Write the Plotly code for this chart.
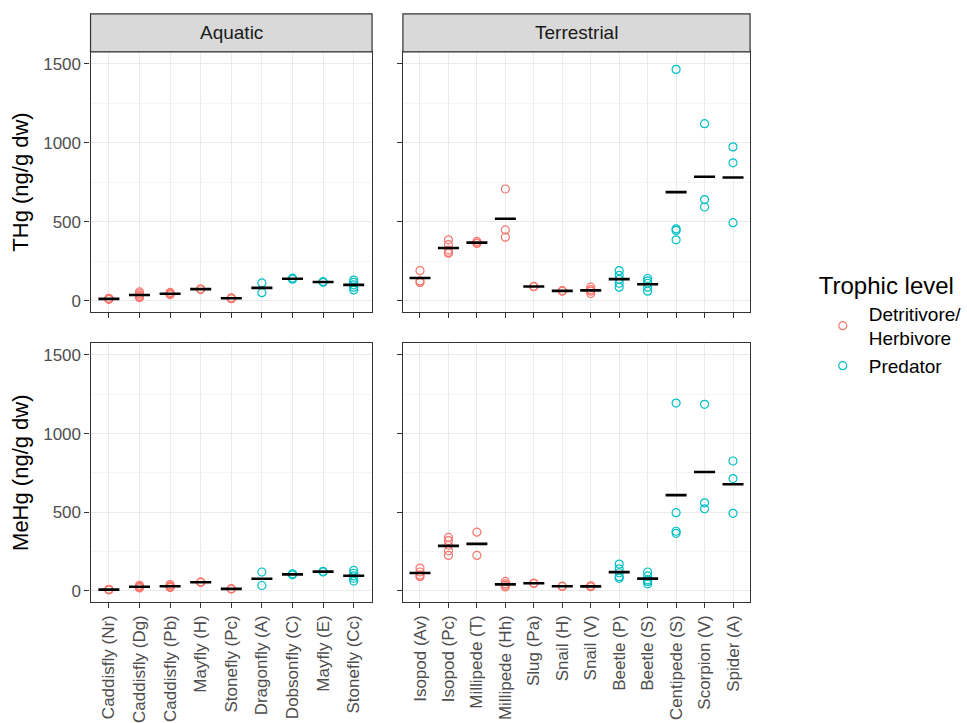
import numpy as np
import plotly.graph_objects as go

# ---------------- data ----------------
aquatic_cats = ["Caddisfly (Nr)", "Caddisfly (Dg)", "Caddisfly (Pb)", "Mayfly (H)", "Stonefly (Pc)",
                "Dragonfly (A)", "Dobsonfly (C)", "Mayfly (E)", "Stonefly (Cc)"]
aquatic_levels = ["Detritivore/Herbivore"] * 5 + ["Predator"] * 4

terrestrial_cats = ["Isopod (Av)", "Isopod (Pc)", "Millipede (T)", "Millipede (Hh)", "Slug (Pa)",
                    "Snail (H)", "Snail (V)", "Beetle (P)", "Beetle (S)", "Centipede (S)",
                    "Scorpion (V)", "Spider (A)"]
terrestrial_levels = ["Detritivore/Herbivore"] * 7 + ["Predator"] * 5

thg_aquatic = [[15, 10, 8, 12], [55, 45, 35, 25, 18], [52, 45, 40, 38], [75, 70], [18, 14, 12],
               [112, 50], [142, 136], [120, 116], [130, 115, 100, 85, 68]]
thg_terrestrial = [[190, 125, 115], [385, 355, 320, 305, 300], [375, 365, 362], [707, 448, 402],
                   [90, 88], [63, 60], [85, 70, 60, 45], [190, 160, 135, 110, 85],
                   [140, 125, 110, 85, 60], [1465, 455, 445, 385], [1121, 640, 593], [974, 873, 494]]
mehg_aquatic = [[10, 6, 8], [35, 28, 22, 18], [40, 30, 25, 22], [57, 53], [14, 11],
                [120, 34], [108, 102], [124, 120], [130, 112, 95, 80, 62]]
mehg_terrestrial = [[145, 120, 100, 90], [340, 320, 290, 255, 225], [373, 225], [60, 45, 35, 25],
                    [50, 46], [30, 28], [32, 28, 26], [170, 140, 115, 90, 80],
                    [120, 95, 70, 60, 45], [1194, 497, 379, 366], [1186, 560, 522], [826, 714, 493]]

level_names = ["Detritivore/Herbivore", "Predator"]
legend_labels = {"Detritivore/Herbivore": "Detritivore/<br>Herbivore", "Predator": "Predator"}
colors = {"Detritivore/Herbivore": "#F8766D", "Predator": "#00BFC4"}
y_ticks = [0, 500, 1000, 1500]

# ---------------- figure ----------------
W, H = 967, 723
fig = go.Figure()

def px_x(p):
    return p / W

def px_y(p):
    return 1 - p / H

col_dom = [(px_x(91), px_x(374)), (px_x(405), px_x(754))]
row_dom = [(px_y(313), px_y(52)), (px_y(604), px_y(344))]

panels = [
    ("x", "y", 0, 0, aquatic_cats, aquatic_levels, thg_aquatic),
    ("x2", "y2", 0, 1, terrestrial_cats, terrestrial_levels, thg_terrestrial),
    ("x3", "y3", 1, 0, aquatic_cats, aquatic_levels, mehg_aquatic),
    ("x4", "y4", 1, 1, terrestrial_cats, terrestrial_levels, mehg_terrestrial),
]

shown = set()
for xa, ya, r, c, cats, levels, vals in panels:
    for lev in level_names:
        xs, ys = [], []
        for cat, l, v in zip(cats, levels, vals):
            if l == lev:
                xs += [cat] * len(v)
                ys += list(v)
        if not xs:
            continue
        fig.add_trace(go.Scatter(
            x=xs, y=ys, xaxis=xa, yaxis=ya, mode="markers",
            name=legend_labels[lev], legendgroup=lev, showlegend=lev not in shown,
            marker=dict(symbol="circle-open", size=8, color=colors[lev], line=dict(width=1.2)),
            hoverinfo="x+y",
        ))
        shown.add(lev)
    means = [float(np.mean(v)) for v in vals]
    fig.add_trace(go.Scatter(
        x=cats, y=means, xaxis=xa, yaxis=ya, mode="markers", showlegend=False,
        marker=dict(symbol="line-ew", size=15, color="black", line=dict(width=2.6, color="black")),
        hoverinfo="x+y",
    ))

layout = dict(
    width=W, height=H, margin=dict(l=0, r=0, t=0, b=0),
    paper_bgcolor="white", plot_bgcolor="white",
    font=dict(family="Liberation Sans, Arial", color="black"),
    showlegend=True,
    legend=dict(
        title=dict(text="Trophic level", font=dict(size=24, color="black")),
        font=dict(size=19, color="black"),
        x=px_x(821), y=px_y(264), xanchor="left", yanchor="top",
        bgcolor="rgba(0,0,0,0)", itemwidth=42, tracegroupgap=0,
    ),
)

axis_common = dict(
    showline=True, linecolor="#333333", linewidth=1.2, mirror=True,
    ticks="outside", ticklen=5, tickwidth=1.2, tickcolor="#333333",
    gridcolor="#EBEBEB", gridwidth=1.3, zeroline=False,
    tickfont=dict(size=17, color="#4D4D4D"),
)

for xa, ya, r, c, cats, levels, vals in panels:
    xkey = "xaxis" if xa == "x" else "xaxis" + xa[1:]
    ykey = "yaxis" if ya == "y" else "yaxis" + ya[1:]
    n = len(cats)
    layout[xkey] = dict(
        axis_common, domain=list(col_dom[c]), anchor=ya, type="category",
        categoryorder="array", categoryarray=cats, range=[-0.6, n - 0.4],
        showticklabels=(r == 1), tickangle=-90,
    )
    ydict = dict(
        axis_common, domain=list(row_dom[r]), anchor=xa, range=[-73, 1576],
        tickvals=y_ticks, showticklabels=(c == 0),
        minor=dict(tickvals=[250, 750, 1250], showgrid=True, gridcolor="#F4F4F4", gridwidth=0.7, ticks=""),
    )
    if c == 0:
        ydict["title"] = dict(text="THg (ng/g dw)" if r == 0 else "MeHg (ng/g dw)",
                              font=dict(size=22, color="black"), standoff=8)
    layout[ykey] = ydict

fig.update_layout(**layout)

# facet strips
strip_names = ["Aquatic", "Terrestrial"]
for c, name in enumerate(strip_names):
    x0, x1 = col_dom[c]
    fig.add_shape(type="rect", xref="paper", yref="paper", x0=x0, x1=x1,
                  y0=px_y(52), y1=px_y(14), fillcolor="#D9D9D9",
                  line=dict(color="#333333", width=1.2), layer="above")
    fig.add_annotation(text=name, xref="paper", yref="paper", x=(x0 + x1) / 2, y=px_y(33),
                       showarrow=False, font=dict(size=19, color="#1A1A1A"),
                       xanchor="center", yanchor="middle")

fig.write_html("out.html")
